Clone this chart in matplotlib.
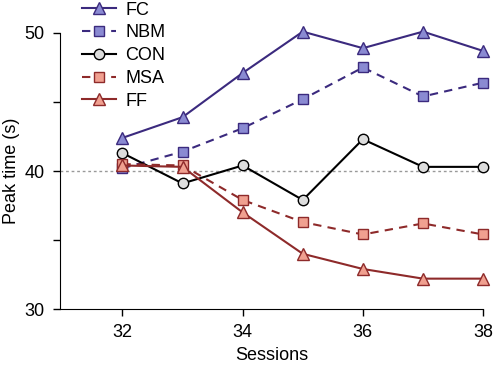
import numpy as np
import matplotlib
matplotlib.use("Agg")
import matplotlib.pyplot as plt

# --- DATA ---
sessions = [32, 33, 34, 35, 36, 37, 38]
fc = [42.4, 43.9, 47.1, 50.1, 48.9, 50.1, 48.7]
nbm = [40.2, 41.4, 43.1, 45.2, 47.5, 45.4, 46.4]
con = [41.3, 39.1, 40.4, 37.9, 42.3, 40.3, 40.3]
msa = [40.5, 40.4, 37.9, 36.3, 35.4, 36.2, 35.4]
ff = [40.4, 40.3, 37.0, 34.0, 32.9, 32.2, 32.2]

purple = '#3b2a7e'
purple_face = '#8a8ad2'
red = '#8e2a2a'
red_face = '#f0a090'

plt.rcParams['font.family'] = ['Liberation Sans', 'DejaVu Sans']

fig = plt.figure(figsize=(4.95, 3.65), dpi=100)
ax = fig.add_axes([0.121, 0.1534, 0.855, 0.7562])

ax.axhline(40, color='#999999', lw=1, ls=(0, (2, 2)), zorder=1)

kw = dict(mew=1.0, clip_on=False, zorder=3, lw=1.5)
ax.plot(sessions, fc, '-', marker='^', color=purple, mfc=purple_face, mec=purple, ms=8, label='FC', **kw)
ax.plot(sessions, nbm, '--', marker='s', color=purple, mfc=purple_face, mec=purple, ms=6.5, dashes=(4, 3), label='NBM', **kw)
ax.plot(sessions, con, '-', marker='o', color='black', mfc='#dddddd', mec='black', ms=7.5, label='CON', **kw)
ax.plot(sessions, msa, '--', marker='s', color=red, mfc=red_face, mec=red, ms=6.5, dashes=(4, 3), label='MSA', **kw)
ax.plot(sessions, ff, '-', marker='^', color=red, mfc=red_face, mec=red, ms=8, label='FF', **kw)

ax.set_xlim(30.96, 38)
ax.set_ylim(30, 50)
ax.set_xticks([32, 34, 36, 38])
ax.set_yticks([30, 35, 40, 45, 50])
ax.set_yticklabels(['30', '', '40', '', '50'])
ax.tick_params(direction='out', length=5, width=1, labelsize=13, pad=6)
ax.spines['top'].set_visible(False)
ax.spines['right'].set_visible(False)
ax.set_xlabel('Sessions', fontsize=13, labelpad=4)
ax.set_ylabel('Peak time (s)', fontsize=13, labelpad=3)

leg = fig.legend(loc='upper left', bbox_to_anchor=(0.133, 1.04), frameon=False,
                 fontsize=13, handlelength=1.9, labelspacing=0.32, handletextpad=0.5)

fig.savefig('out.png', dpi=100)
